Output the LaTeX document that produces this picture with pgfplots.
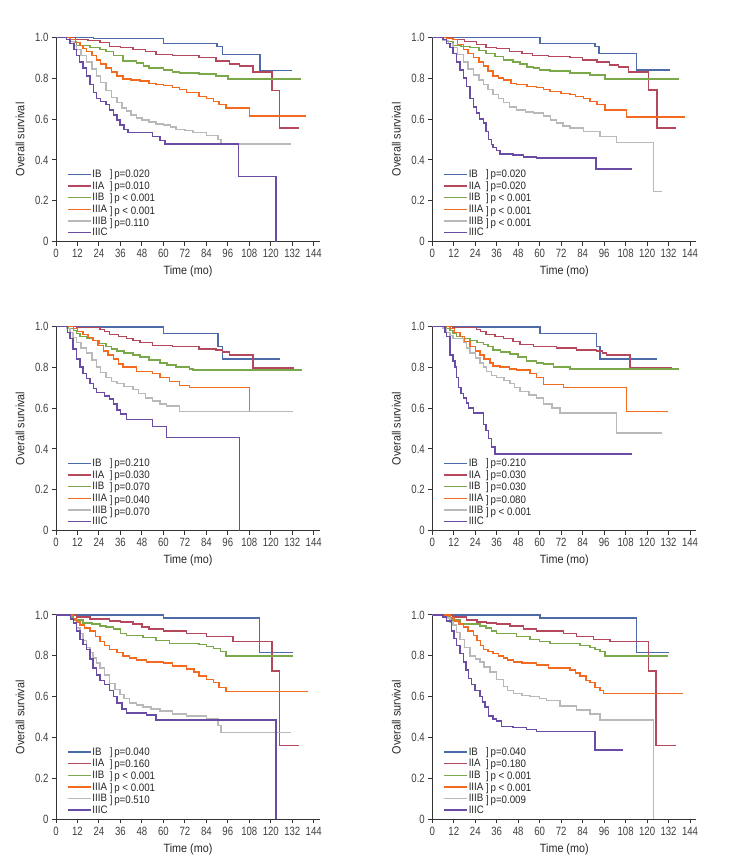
\documentclass[border=0pt]{standalone}
\usepackage{fontspec}
\setmainfont{Liberation Sans}[FakeStretch=0.9]
\newfontfamily\tickfont{Liberation Sans}[FakeStretch=0.8]
\usepackage{pgfplots}
\pgfplotsset{compat=1.18}

\definecolor{cIB}{HTML}{4D6BA8}
\definecolor{cIIA}{HTML}{B5485C}
\definecolor{cIIB}{HTML}{7BA84A}
\definecolor{cIIIA}{HTML}{F26B21}
\definecolor{cIIIB}{HTML}{B9B9B9}
\definecolor{cIIIC}{HTML}{6B4CA5}

\pgfplotsset{
  km/.style={
    scale only axis, width=264pt, height=204.4pt,
    anchor=south west,
    xmin=0, xmax=147.5, ymin=0, ymax=1,
    axis lines=left,
    axis line style={-, black!80, line width=1pt},
    tick align=outside, major tick length=4pt,
    tick style={black!80, line width=1pt},
    xtick={0,12,...,144},
    xticklabels={0,12,24,36,48,60,72,84,96,108,120,132,144},
    ytick={0,0.2,0.4,0.6,0.8,1.0},
    yticklabels={0,0.2,0.4,0.6,0.8,1.0},
    ticklabel style={font=\tickfont\fontsize{12}{14}\selectfont, black!75},
    xlabel={Time (mo)}, ylabel={Overall survival},
    label style={font=\fontsize{12}{14}\selectfont, black!85},
    xlabel style={at={(axis description cs:0.5,-0.147)}, anchor=center},
    ylabel style={at={(axis description cs:-0.136,0.5)}, anchor=center},
    every axis plot/.append style={const plot, line width=1.5pt},
    legend image code/.code={\draw[#1, line width=1.5pt] (0pt,0pt) -- (23pt,0pt);},
    legend cell align=left,
    legend style={at={(axis description cs:0.040,0.358)}, anchor=north west,
      draw=none, fill=none, inner sep=0pt, row sep=0pt,
      font=\fontsize{10.8}{11}\selectfont,
      nodes={inner sep=1.2pt, text height=7.7pt, text depth=1.5pt, text=black!85}},
  },
}
\tikzset{
  pv/.style={anchor=west, inner sep=0pt, font=\fontsize{10.8}{11}\selectfont, black!85},
  letter/.style={font=\fontsize{12.5}{14}\selectfont\bfseries, anchor=center},
}

\newcommand{\pvals}[5]{%
  \node[pv] at (axis description cs:0.203,0.326) {]\,#1};
  \node[pv] at (axis description cs:0.203,0.267) {]\,#2};
  \node[pv] at (axis description cs:0.203,0.208) {]\,#3};
  \node[pv] at (axis description cs:0.203,0.149) {]\,#4};
  \node[pv] at (axis description cs:0.203,0.090) {]\,#5};
}

\begin{document}
\begin{tikzpicture}[x=1pt,y=1pt]
\useasboundingbox (0,0) rectangle (736,866);

% ---------------- A ----------------
\begin{axis}[km, at={(56pt,624.3pt)}]
\addplot[cIB] coordinates {(0,1)(21,0.995)(60,0.97)(90,0.955)(93,0.915)(114,0.838)(132,0.838)};
\addplot[cIIA] coordinates {(0,1)(11,0.99)(18,0.985)(24.5,0.975)(30,0.955)(36,0.95)(43,0.94)(50,0.93)(56,0.915)(65,0.91)(80,0.9)(89.5,0.885)(97,0.87)(102.5,0.86)(110,0.83)(120.8,0.74)(124.9,0.555)(135.6,0.555)};
\addplot[cIIB] coordinates {(0,1)(8,0.98)(11.5,0.96)(19,0.95)(24.5,0.94)(28,0.93)(32,0.91)(37.5,0.885)(45,0.875)(49,0.86)(52,0.85)(60,0.84)(65,0.83)(69,0.825)(80,0.82)(89.5,0.81)(96,0.795)(137,0.795)};
\addplot[cIIIA] coordinates {(0,1)(7.8,0.99)(11,0.975)(13.4,0.96)(15,0.945)(17,0.93)(20,0.91)(22.7,0.89)(25,0.87)(28,0.85)(31,0.83)(34,0.81)(37.5,0.795)(42,0.79)(47,0.785)(52,0.775)(56,0.77)(60,0.765)(65,0.755)(69,0.745)(73,0.73)(80,0.71)(84,0.7)(88,0.685)(91,0.67)(95,0.655)(108,0.615)(139.7,0.615)};
\addplot[cIIIB] coordinates {(0,1)(6,0.99)(7.8,0.98)(10,0.96)(11.5,0.94)(14,0.91)(17,0.88)(20,0.845)(22.7,0.81)(25,0.78)(28,0.74)(31,0.705)(34,0.68)(37,0.655)(39.4,0.64)(42,0.62)(45,0.605)(48,0.595)(52,0.585)(56,0.575)(60,0.57)(64,0.56)(67,0.55)(72,0.545)(76.5,0.535)(84,0.52)(90.5,0.5)(92.3,0.477)(131.4,0.477)};
\addplot[cIIIC] coordinates {(0,1)(6,0.99)(7.8,0.97)(10,0.94)(11.5,0.91)(13,0.88)(15.2,0.85)(17,0.81)(19,0.77)(21,0.73)(22.7,0.70)(25,0.685)(28,0.67)(30,0.645)(32,0.62)(34,0.595)(35.7,0.57)(38,0.55)(40.3,0.535)(54,0.515)(58,0.495)(60.8,0.477)(102,0.318)(123,0)};
\legend{IB,IIA,IIB,IIIA,IIIB,IIIC}
\pvals{p=0.020}{p=0.010}{p < 0.001}{p < 0.001}{p=0.110}
\node[letter] at (axis description cs:1.026,1.031) {A};
\end{axis}

% ---------------- B ----------------
\begin{axis}[km, at={(432.3pt,624.3pt)}]
\addplot[cIB] coordinates {(0,1)(60.2,0.97)(91,0.955)(93,0.92)(114,0.84)(132.8,0.84)};
\addplot[cIIA] coordinates {(0,1)(11.7,0.99)(18,0.98)(24.8,0.965)(30,0.95)(36,0.945)(43,0.93)(50,0.92)(56,0.91)(65,0.905)(77,0.9)(84,0.89)(92,0.88)(99,0.865)(104,0.855)(109.5,0.83)(120.7,0.742)(125.4,0.555)(136.2,0.555)};
\addplot[cIIB] coordinates {(0,1)(8,0.98)(11.7,0.96)(16,0.955)(21,0.95)(26,0.935)(30,0.92)(35,0.905)(39.7,0.89)(45,0.88)(49,0.87)(53,0.855)(56.4,0.85)(60,0.84)(65.8,0.835)(77,0.825)(88,0.815)(96.5,0.797)(138,0.797)};
\addplot[cIIIA] coordinates {(0,1)(8,0.995)(11.7,0.99)(14,0.965)(17.3,0.94)(20,0.92)(23,0.9)(26,0.88)(28.5,0.86)(31,0.835)(34,0.81)(37,0.8)(39.7,0.79)(44,0.775)(47,0.77)(53,0.76)(58.3,0.755)(62,0.745)(65.8,0.735)(72,0.725)(77,0.72)(80,0.71)(84.4,0.70)(88,0.685)(92,0.67)(96.5,0.645)(108.6,0.61)(141,0.61)};
\addplot[cIIIB] coordinates {(0,1)(6.1,0.985)(9,0.97)(11.7,0.95)(14,0.915)(17.3,0.88)(20,0.845)(23,0.815)(26,0.79)(28.5,0.77)(31,0.745)(34,0.72)(37,0.7)(39.7,0.68)(43,0.66)(47,0.645)(52,0.635)(56.4,0.63)(62,0.615)(66,0.595)(69.5,0.58)(73,0.565)(77,0.555)(84.4,0.54)(93.7,0.515)(103,0.485)(123.5,0.245)(128.2,0.245)};
\addplot[cIIIC] coordinates {(0,1)(6,0.99)(8,0.97)(10,0.95)(11.7,0.92)(13.5,0.88)(15.5,0.84)(17.5,0.8)(19.2,0.76)(21,0.70)(23,0.66)(24.8,0.63)(26.5,0.6)(28.5,0.58)(30,0.54)(31.3,0.5)(33,0.475)(34,0.46)(36,0.445)(37.8,0.43)(45,0.425)(50.9,0.415)(58.3,0.41)(91.5,0.355)(111.4,0.355)};
\legend{IB,IIA,IIB,IIIA,IIIB,IIIC}
\pvals{p=0.020}{p=0.020}{p < 0.001}{p < 0.001}{p < 0.001}
\node[letter] at (axis description cs:1.026,1.031) {B};
\end{axis}

% ---------------- C ----------------
\begin{axis}[km, at={(56pt,335.3pt)}]
\addplot[cIB] coordinates {(0,1)(21.7,0.997)(60,0.965)(90.5,0.90)(93,0.839)(125,0.839)};
\addplot[cIIA] coordinates {(0,1)(11.5,0.995)(24.5,0.985)(27,0.975)(30,0.96)(35,0.95)(39.4,0.94)(43,0.93)(47,0.92)(54,0.905)(65,0.9)(80,0.89)(89.5,0.885)(93,0.875)(97,0.86)(110,0.795)(133.2,0.795)};
\addplot[cIIB] coordinates {(0,1)(7,0.99)(9.7,0.98)(11.5,0.965)(13.4,0.95)(17,0.94)(20.8,0.93)(24,0.915)(28,0.9)(31,0.89)(34,0.88)(38,0.87)(43,0.86)(47,0.85)(52,0.835)(58,0.82)(62,0.81)(67,0.8)(74.7,0.79)(76.5,0.785)(137.5,0.785)};
\addplot[cIIIA] coordinates {(0,1)(9.7,0.99)(12,0.975)(15.2,0.96)(18,0.945)(20.8,0.93)(23.5,0.905)(26.4,0.88)(29,0.86)(32,0.84)(35,0.815)(37.5,0.8)(45,0.78)(54,0.77)(58,0.75)(63.5,0.73)(69,0.71)(74.7,0.7)(108,0.583)(131.4,0.583)};
\addplot[cIIIB] coordinates {(0,1)(6,0.99)(7.8,0.97)(9.5,0.945)(11.5,0.92)(14,0.895)(17,0.87)(20,0.835)(22.7,0.8)(25,0.775)(28,0.75)(31,0.73)(34,0.72)(38,0.705)(43,0.69)(46,0.67)(50,0.65)(54,0.635)(58,0.62)(61.7,0.61)(69,0.583)(132.3,0.583)};
\addplot[cIIIC] coordinates {(0,1)(6.5,0.97)(7.8,0.94)(9.5,0.89)(11.5,0.84)(13.5,0.8)(15.2,0.77)(17,0.745)(19,0.72)(21,0.695)(22.7,0.675)(27,0.66)(30,0.645)(32,0.62)(34,0.59)(36,0.57)(39.4,0.545)(48,0.545)(54,0.51)(61.7,0.455)(102.6,0)};
\legend{IB,IIA,IIB,IIIA,IIIB,IIIC}
\pvals{p=0.210}{p=0.030}{p=0.070}{p=0.040}{p=0.070}
\node[letter] at (axis description cs:1.026,1.031) {C};
\end{axis}

% ---------------- D ----------------
\begin{axis}[km, at={(432.3pt,335.3pt)}]
\addplot[cIB] coordinates {(0,1)(22,0.997)(60.2,0.965)(91.8,0.90)(93.7,0.84)(125.4,0.84)};
\addplot[cIIA] coordinates {(0,1)(11.7,0.995)(24.8,0.985)(27,0.975)(30,0.96)(35,0.95)(39.7,0.94)(45,0.925)(49,0.91)(56.4,0.9)(69.5,0.895)(80.7,0.885)(91.8,0.88)(95,0.87)(97.4,0.86)(110.5,0.797)(133.8,0.797)};
\addplot[cIIB] coordinates {(0,1)(8,0.99)(9.9,0.98)(11.5,0.965)(13.6,0.95)(17,0.94)(21,0.93)(25,0.92)(28.5,0.91)(31,0.9)(34,0.885)(38,0.875)(43.4,0.865)(48,0.85)(52.7,0.83)(58.3,0.82)(62,0.815)(67.6,0.8)(77,0.79)(138,0.79)};
\addplot[cIIIA] coordinates {(0,1)(9.9,0.99)(12.5,0.97)(15.5,0.95)(18,0.925)(21,0.9)(24,0.88)(26.6,0.86)(29,0.84)(32.2,0.82)(34,0.805)(37.8,0.8)(43,0.79)(47,0.785)(54.6,0.77)(58.3,0.75)(62,0.715)(73.2,0.7)(108.6,0.583)(131.9,0.583)};
\addplot[cIIIB] coordinates {(0,1)(6,0.99)(8,0.97)(10,0.955)(11.7,0.94)(17.3,0.92)(19,0.895)(21,0.87)(24,0.845)(26.6,0.82)(28.5,0.8)(30.4,0.78)(33,0.76)(36,0.75)(40,0.735)(43.4,0.72)(46,0.7)(49,0.68)(54,0.665)(58.3,0.65)(62,0.62)(67,0.6)(71.3,0.575)(103,0.478)(128.2,0.478)};
\addplot[cIIIC] coordinates {(0,1)(7,0.97)(8,0.95)(9.9,0.86)(11.5,0.83)(12.7,0.80)(13.6,0.75)(14.5,0.70)(16,0.67)(17.3,0.65)(19,0.625)(20.1,0.60)(23,0.575)(27,0.575)(28.5,0.52)(30,0.49)(31.3,0.45)(33.2,0.41)(35,0.375)(111.4,0.375)};
\legend{IB,IIA,IIB,IIIA,IIIB,IIIC}
\pvals{p=0.210}{p=0.030}{p=0.030}{p=0.080}{p < 0.001}
\node[letter] at (axis description cs:1.026,1.031) {D};
\end{axis}

% ---------------- E ----------------
\begin{axis}[km, at={(56pt,46.7pt)}]
\addplot[cIB] coordinates {(0,1)(60,0.985)(113.7,0.817)(132.3,0.817)};
\addplot[cIIA] coordinates {(0,1)(11.5,0.99)(19,0.98)(30,0.97)(36,0.965)(43,0.955)(48,0.94)(52,0.93)(60,0.92)(73,0.91)(84,0.895)(99,0.87)(120.8,0.725)(125,0.362)(135.6,0.362)};
\addplot[cIIB] coordinates {(0,1)(8,0.99)(9.7,0.975)(15.2,0.96)(20,0.955)(24.5,0.945)(28,0.94)(32,0.93)(36,0.91)(39.4,0.90)(48.7,0.89)(56,0.875)(63.5,0.86)(80,0.855)(84,0.845)(88,0.835)(92,0.82)(95,0.80)(132.3,0.80)};
\addplot[cIIIA] coordinates {(0,1)(9.7,0.98)(11.5,0.965)(13.4,0.95)(16,0.935)(19,0.92)(22,0.895)(24.5,0.87)(27,0.85)(30,0.83)(34,0.815)(37.5,0.80)(41,0.79)(45,0.78)(50.5,0.77)(60,0.765)(65,0.75)(73,0.735)(77,0.72)(80,0.70)(84,0.685)(88,0.67)(91,0.645)(95,0.625)(140.7,0.625)};
\addplot[cIIIB] coordinates {(0,1)(8,0.98)(9.7,0.96)(11.5,0.935)(13.4,0.91)(15,0.875)(17,0.84)(19,0.815)(20.8,0.79)(22.7,0.765)(24.5,0.74)(27,0.705)(30,0.665)(33,0.635)(35.7,0.61)(38,0.59)(41.2,0.57)(45,0.56)(48.7,0.55)(53,0.54)(58,0.53)(65,0.515)(73,0.505)(84,0.49)(90.5,0.46)(92.3,0.425)(131.4,0.425)};
\addplot[cIIIC] coordinates {(0,1)(8,0.98)(9.7,0.96)(11.5,0.92)(13.4,0.88)(15,0.855)(17,0.83)(19,0.785)(20.8,0.74)(22.7,0.705)(24.5,0.68)(27,0.66)(30,0.63)(32,0.6)(34,0.57)(37,0.54)(39.4,0.52)(50.5,0.51)(56,0.485)(123,0)};
\legend{IB,IIA,IIB,IIIA,IIIB,IIIC}
\pvals{p=0.040}{p=0.160}{p < 0.001}{p < 0.001}{p=0.510}
\node[letter] at (axis description cs:1.026,1.031) {E};
\end{axis}

% ---------------- F ----------------
\begin{axis}[km, at={(432.3pt,46.7pt)}]
\addplot[cIB] coordinates {(0,1)(60.2,0.985)(114,0.815)(132.5,0.815)};
\addplot[cIIA] coordinates {(0,1)(11.7,0.99)(19.2,0.975)(25,0.965)(30.4,0.96)(36,0.955)(43.4,0.945)(50.9,0.93)(58.3,0.92)(73.2,0.91)(80.7,0.895)(90,0.88)(99.3,0.87)(120.7,0.725)(125,0.362)(136.2,0.362)};
\addplot[cIIB] coordinates {(0,1)(8,0.99)(9.9,0.975)(15.5,0.955)(26.6,0.945)(30,0.935)(33,0.92)(36,0.91)(47,0.895)(54.6,0.88)(60,0.87)(65.8,0.86)(82.5,0.85)(88,0.84)(91,0.83)(93.7,0.82)(96.5,0.80)(131.9,0.80)};
\addplot[cIIIA] coordinates {(0,1)(9.9,0.985)(12.5,0.97)(15,0.955)(17.3,0.94)(20,0.92)(23,0.90)(25,0.875)(27,0.85)(28.5,0.83)(31,0.82)(34,0.81)(37,0.8)(39.7,0.79)(42,0.78)(45.3,0.77)(50,0.765)(58.3,0.755)(64.8,0.74)(77,0.73)(80,0.715)(82.5,0.70)(86,0.68)(88,0.67)(91,0.645)(93.7,0.63)(95.6,0.615)(140.3,0.615)};
\addplot[cIIIB] coordinates {(0,1)(6,0.99)(8,0.985)(10,0.965)(11.7,0.95)(13.5,0.915)(15.5,0.88)(18,0.84)(21,0.80)(24,0.785)(26.6,0.77)(29,0.745)(32.2,0.72)(36,0.685)(39.7,0.65)(42,0.63)(45.3,0.615)(50,0.605)(54.6,0.60)(60,0.59)(63.9,0.58)(71.3,0.555)(80.7,0.535)(88,0.515)(93.7,0.485)(123.5,0)};
\addplot[cIIIC] coordinates {(0,1)(6,0.99)(8,0.97)(10.8,0.92)(12.2,0.885)(13.6,0.85)(15.5,0.81)(17.3,0.77)(18.8,0.73)(20.1,0.69)(22,0.66)(23.8,0.63)(26.6,0.60)(28,0.575)(29.5,0.55)(31.3,0.505)(34,0.49)(36,0.48)(38.7,0.455)(45,0.45)(52.7,0.44)(58.3,0.43)(90.9,0.34)(106.4,0.34)};
\legend{IB,IIA,IIB,IIIA,IIIB,IIIC}
\pvals{p=0.040}{p=0.180}{p < 0.001}{p < 0.001}{p=0.009}
\node[letter] at (axis description cs:1.026,1.031) {F};
\end{axis}
\end{tikzpicture}
\end{document}
